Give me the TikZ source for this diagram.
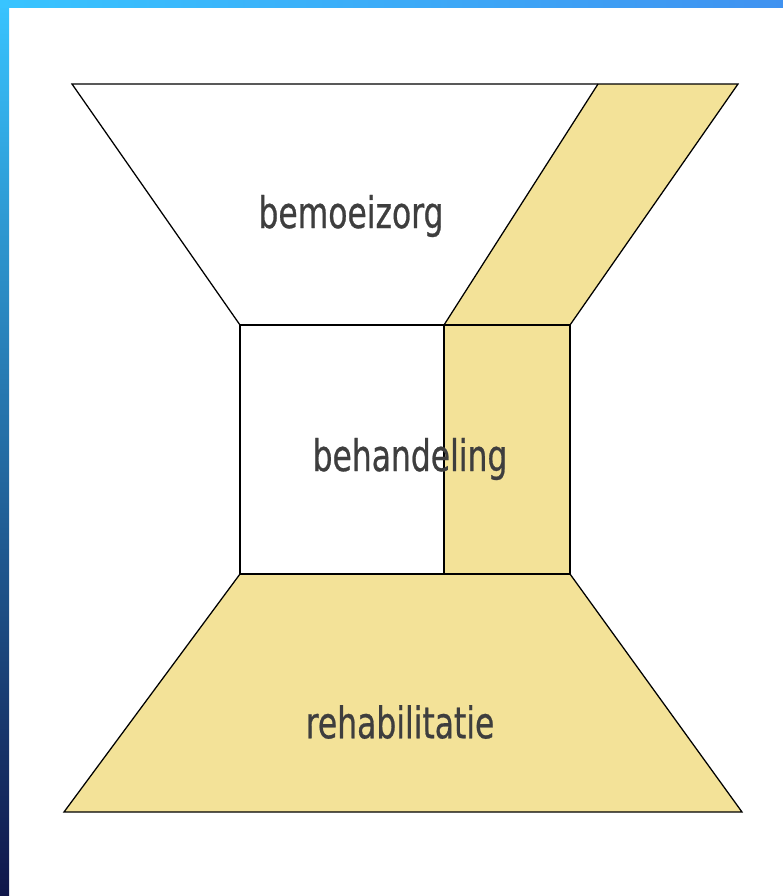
\documentclass[tikz,border=0pt]{standalone}
\usepackage{fontspec}
\newfontfamily\labelfont[FakeStretch=0.72, FakeBold=0.6]{DejaVu Sans}
\usepackage{tikz}
\usetikzlibrary{positioning, calc}
\usepackage{xcolor}
\definecolor{sand}{RGB}{243,226,152}
\definecolor{inkgray}{RGB}{62,62,62}
\definecolor{edgetop}{RGB}{56,196,255}
\definecolor{edgebottom}{RGB}{16,22,74}
\definecolor{barblue}{RGB}{64,146,240}

\begin{document}
\begin{tikzpicture}[x=0.025cm, y=-0.025cm,
  outline/.style={draw=black, line width=0.9pt, line join=miter},
  lbl/.style={text=inkgray, font=\labelfont\fontsize{31}{31}\selectfont}]
  \useasboundingbox (0,0) rectangle (783,896);
  % frame strips
  \shade[top color=edgetop, bottom color=edgebottom] (0,0) rectangle (9,896);
  \shade[left color=edgetop, right color=barblue] (0,0) rectangle (783,7);
  % corners
  \coordinate (tl) at (72,84);   \coordinate (tr) at (738,84);
  \coordinate (ts) at (598,84);
  \coordinate (ml) at (240,325); \coordinate (mr) at (570,325);
  \coordinate (ms) at (444,325);
  \coordinate (bl) at (240,574); \coordinate (br) at (570,574);
  \coordinate (bs) at (444,574);
  \coordinate (fl) at (64,812);  \coordinate (fr) at (742,812);
  % yellow parts
  \fill[sand] (ts) -- (tr) -- (mr) -- (ms) -- cycle;
  \fill[sand] (ms) rectangle (br);
  \fill[sand] (bl) -- (br) -- (fr) -- (fl) -- cycle;
  % outlines
  \draw[outline] (tl) -- (tr) -- (mr) -- (ml) -- cycle;
  \draw[outline] (ts) -- (ms);
  \draw[outline] (ml) rectangle (br);
  \draw[outline] (ms) -- (bs);
  \draw[outline] (bl) -- (br) -- (fr) -- (fl) -- cycle;
  % labels
  \node[lbl] (care) at (351,216) {bemoeizorg};
  \node[lbl] (treat) at (410,459) {behandeling};
  \node[lbl] (rehab) at (400,722) {rehabilitatie};
\end{tikzpicture}
\end{document}
